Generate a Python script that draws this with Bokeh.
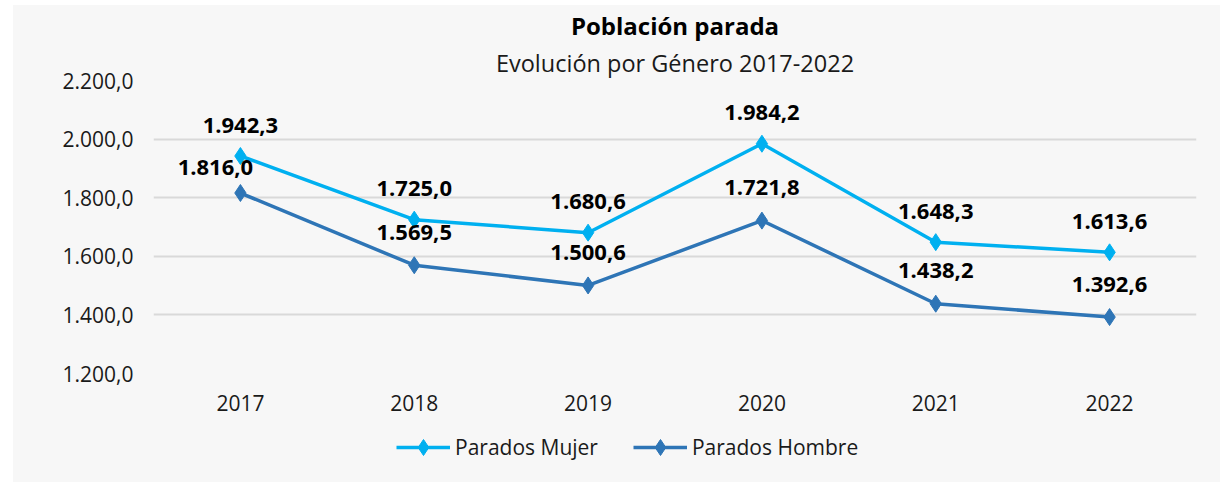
from bokeh.plotting import figure
from bokeh.models import (ColumnDataSource, FixedTicker, Title, Legend, LegendItem,
                          LabelSet, FactorRange, Range1d)
from bokeh.layouts import column
from bokeh.core.properties import value
from bokeh.embed import file_html
from bokeh.resources import INLINE

# ---- data ----
years = ["2017", "2018", "2019", "2020", "2021", "2022"]
parados_mujer = [1942.3, 1725.0, 1680.6, 1984.2, 1648.3, 1613.6]
parados_hombre = [1816.0, 1569.5, 1500.6, 1721.8, 1438.2, 1392.6]
y_ticks = [1200, 1400, 1600, 1800, 2000, 2200]
y_tick_labels = ["1.200,0", "1.400,0", "1.600,0", "1.800,0", "2.000,0", "2.200,0"]
series_names = ["Parados Mujer", "Parados Hombre"]
title_text = "Población parada"
subtitle_text = "Evolución por Género 2017-2022"

# label placement (style, not data)
mujer_label_dx = [0, 0, 0, 0, 0, 0]
mujer_label_dy = [31, 31, 31, 31, 31, 31]
hombre_label_dx = [-25, 0, 0, 0, 0, 0]
hombre_label_dy = [26, 33, 33, 33, 33, 33]

FONT = "Open Sans"
C_MUJER = "#00b0f0"
C_HOMBRE = "#2e75b6"
BG = "#f7f7f7"
TXT = "#1a1a1a"
BORDERS = dict(min_border_left=140, min_border_right=24)


def fmt(v):
    s = f"{v:,.1f}"
    return s.replace(",", "X").replace(".", ",").replace("X", ".")


src_m = ColumnDataSource(dict(x=years, y=parados_mujer,
                              t=[fmt(v) for v in parados_mujer],
                              dx=mujer_label_dx, dy=mujer_label_dy))
src_h = ColumnDataSource(dict(x=years, y=parados_hombre,
                              t=[fmt(v) for v in parados_hombre],
                              dx=hombre_label_dx, dy=hombre_label_dy))

p = figure(width=1207, height=415, x_range=FactorRange(*years),
           y_range=Range1d(y_ticks[0], y_ticks[-1]),
           output_backend="svg", toolbar_location=None, title=None,
           min_border_top=73, min_border_bottom=47, **BORDERS)
p.border_fill_color = BG
p.background_fill_color = BG
p.outline_line_color = None

# titles (first added is closest to the plot)
p.add_layout(Title(text=subtitle_text, align="center", text_font=FONT,
                   text_font_size="23.5px", text_font_style="normal",
                   text_color=TXT, standoff=3, offset=0), "above")
p.add_layout(Title(text=title_text, align="center", text_font=FONT,
                   text_font_size="24px", text_font_style="bold",
                   text_color="#000000", standoff=3, offset=0), "above")

# axes
p.yaxis.ticker = FixedTicker(ticks=y_ticks)
p.yaxis.major_label_overrides = {t: l for t, l in zip(y_ticks, y_tick_labels)}
for ax in (p.xaxis[0], p.yaxis[0]):
    ax.axis_line_color = None
    ax.major_tick_line_color = None
    ax.minor_tick_line_color = None
    ax.major_label_text_font = FONT
    ax.major_label_text_font_size = "21px"
    ax.major_label_text_color = TXT
p.yaxis.major_label_standoff = 14
p.xaxis.major_label_standoff = 15

p.xgrid.grid_line_color = None
p.ygrid.ticker = FixedTicker(ticks=y_ticks)
p.ygrid.grid_line_color = "#d9d9d9"
p.ygrid.grid_line_width = 2

# series
line_kw = dict(line_width=3.5)
mark_kw = dict(marker="diamond", size=17)
p.line("x", "y", source=src_m, color=C_MUJER, **line_kw)
p.scatter("x", "y", source=src_m, color=C_MUJER, **mark_kw)
p.line("x", "y", source=src_h, color=C_HOMBRE, **line_kw)
p.scatter("x", "y", source=src_h, color=C_HOMBRE, **mark_kw)

for src in (src_m, src_h):
    p.add_layout(LabelSet(x="x", y="y", text="t", source=src,
                          x_offset="dx", y_offset="dy",
                          text_align="center", text_baseline="middle",
                          text_font=value(FONT), text_font_size="22px",
                          text_font_style="bold", text_color="#000000"))

# legend strip below the chart (same series, drawn off-view; only the legend shows)
lg = figure(width=1207, height=62, x_range=FactorRange(*years),
            y_range=Range1d(0, 1),
            output_backend="svg", toolbar_location=None,
            x_axis_type=None, y_axis_type=None,
            min_border_top=0, min_border_bottom=0, **BORDERS)
lg.border_fill_color = BG
lg.background_fill_color = BG
lg.outline_line_color = None
lg.grid.visible = False
lm = lg.line("x", "y", source=src_m, color=C_MUJER, **line_kw)
sm = lg.scatter("x", "y", source=src_m, color=C_MUJER, **mark_kw)
lh = lg.line("x", "y", source=src_h, color=C_HOMBRE, **line_kw)
sh = lg.scatter("x", "y", source=src_h, color=C_HOMBRE, **mark_kw)

legend = Legend(items=[LegendItem(label=series_names[0], renderers=[lm, sm]),
                       LegendItem(label=series_names[1], renderers=[lh, sh])],
                orientation="horizontal", location=(243, 15),
                glyph_width=54, glyph_height=40, spacing=35,
                label_text_font=FONT, label_text_font_size="21px",
                label_text_color=TXT, label_standoff=5,
                label_text_baseline="middle",
                background_fill_alpha=0, border_line_color=None,
                margin=0, padding=2)
lg.add_layout(legend, "center")

layout = column(p, lg, spacing=0, margin=(5, 0, 0, 13),
                styles={"background-color": BG})
open("out.html", "w").write(file_html(layout, INLINE))
